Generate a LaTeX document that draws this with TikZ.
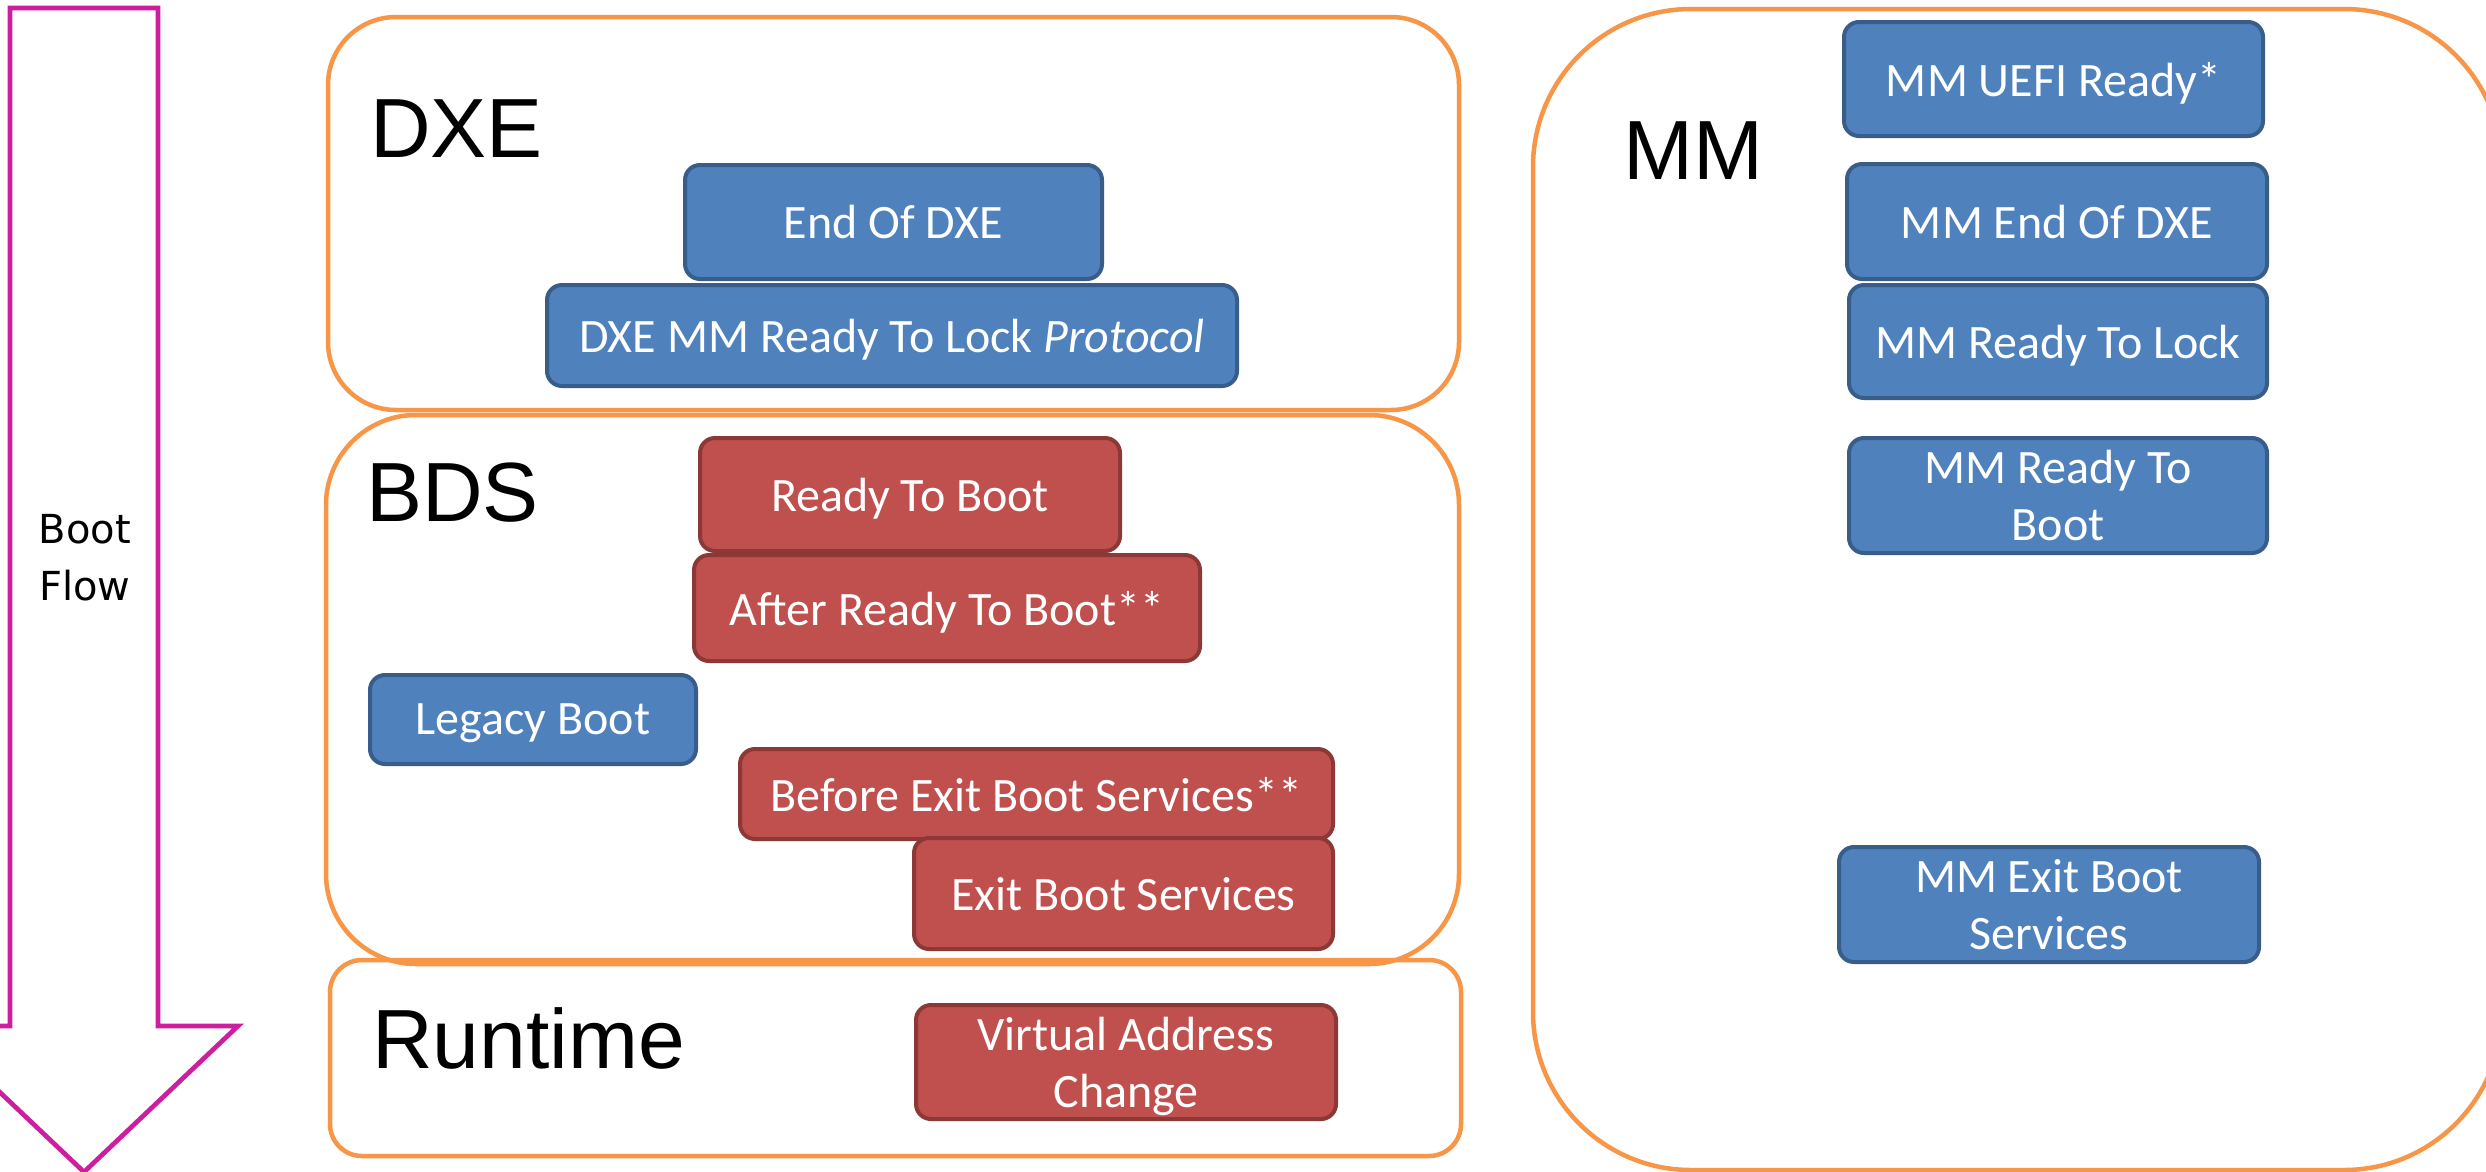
\documentclass[tikz,border=0pt]{standalone}
\usepackage{fontspec}
\setmainfont{Carlito}
\newfontfamily\arialf{Liberation Sans}
\newfontfamily\dejavuf{DejaVu Sans}
\definecolor{evblue}{RGB}{79,129,189}
\definecolor{evblueb}{RGB}{56,93,138}
\definecolor{evred}{RGB}{192,80,77}
\definecolor{evredb}{RGB}{140,56,54}
\definecolor{grporange}{RGB}{247,150,70}
\definecolor{flowmag}{RGB}{204,30,158}
\begin{document}
\begin{tikzpicture}[x=1pt,y=-1pt,
  ev/.style={rounded corners=15pt, line width=4pt, text=white,
    font=\fontsize{48}{57}\selectfont, inner sep=0pt, align=center},
  bluebox/.style={ev, fill=evblue, draw=evblueb},
  redbox/.style={ev, fill=evred, draw=evredb},
  oneline/.style={text depth=0pt},
  grp/.style={draw=grporange, line width=4.5pt, inner sep=0pt},
  grplabel/.style={font=\arialf\fontsize{84}{90}\selectfont, anchor=base west, inner sep=0pt}
]
\useasboundingbox (0,0) rectangle (2486,1171);
\clip (0,0) rectangle (2486,1171);
\fill[white] (0,0) rectangle (2486,1171);

% Boot flow arrow
\draw[flowmag, line width=4.7pt, line join=miter]
  (10,8) -- (158,8) -- (158,1026) -- (238,1026) -- (84,1172) -- (-70,1026) -- (10,1026) -- cycle;
\node[font=\dejavuf\fontsize{40}{57}\selectfont, align=center, inner sep=0pt, anchor=base]
  (flow) at (85,600) {Boot\\Flow};

% Group boxes
\node[grp, rounded corners=158pt, minimum width=969pt, minimum height=1161pt] (mm) at (2017.5,589.5) {};
\node[grp, rounded corners=68pt, minimum width=1131pt, minimum height=393pt] (dxe) at (893.5,213.5) {};
\node[grp, rounded corners=90pt, minimum width=1133pt, minimum height=549pt] (bds) at (892.5,689.5) {};
\node[grp, rounded corners=32pt, minimum width=1131pt, minimum height=196pt] (rt) at (895.5,1058) {};

\node[grplabel] (dxel) at (370,157) {DXE};
\node[grplabel] (bdsl) at (366,521) {BDS};
\node[grplabel] (rtl) at (372,1068) {Runtime};
\node[grplabel] (mml) at (1623,179) {MM};

% DXE events
\node[bluebox, oneline, minimum width=417pt, minimum height=114pt] (eod) at (893.5,222) {End Of DXE};
\node[bluebox, oneline, minimum width=690pt, minimum height=101pt] (rtl2) at (892,335.5) {DXE MM Ready To Lock \textit{Protocol}};

% BDS events
\node[redbox, oneline, minimum width=420pt, minimum height=113pt] (rtb) at (910,494.5) {Ready To Boot};
\node[redbox, oneline, minimum width=506pt, minimum height=106pt] (artb) at (947,608) {After Ready To Boot**};
\node[bluebox, oneline, minimum width=326pt, minimum height=89pt] (legacy) at (533,719.5) {Legacy Boot};
\node[redbox, oneline, minimum width=593pt, minimum height=90pt] (bebs) at (1036.5,794) {Before Exit Boot Services**};
\node[redbox, oneline, minimum width=419pt, minimum height=111pt] (ebs) at (1123.5,893.5) {Exit Boot Services};

% Runtime events
\node[redbox, minimum width=420pt, minimum height=114pt] (vac) at (1126,1062) {};
\node[text=white, font=\fontsize{48}{57}\selectfont, align=center, inner sep=0pt] (vact) at (1126,1066) {Virtual Address\\Change};

% MM events
\node[bluebox, oneline, minimum width=419pt, minimum height=114pt] (mmuefi) at (2053.5,79) {MM UEFI Ready*};
\node[bluebox, oneline, minimum width=420pt, minimum height=115pt] (mmeod) at (2057,221.5) {MM End Of DXE};
\node[bluebox, oneline, minimum width=418pt, minimum height=113pt] (mmrtl) at (2058,341.5) {MM Ready To Lock};
\node[bluebox, minimum width=418pt, minimum height=115pt] (mmrtb) at (2058,495.5) {MM Ready To\\Boot};
\node[bluebox, minimum width=420pt, minimum height=115pt] (mmebs) at (2049,904.5) {MM Exit Boot\\Services};
\end{tikzpicture}
\end{document}
